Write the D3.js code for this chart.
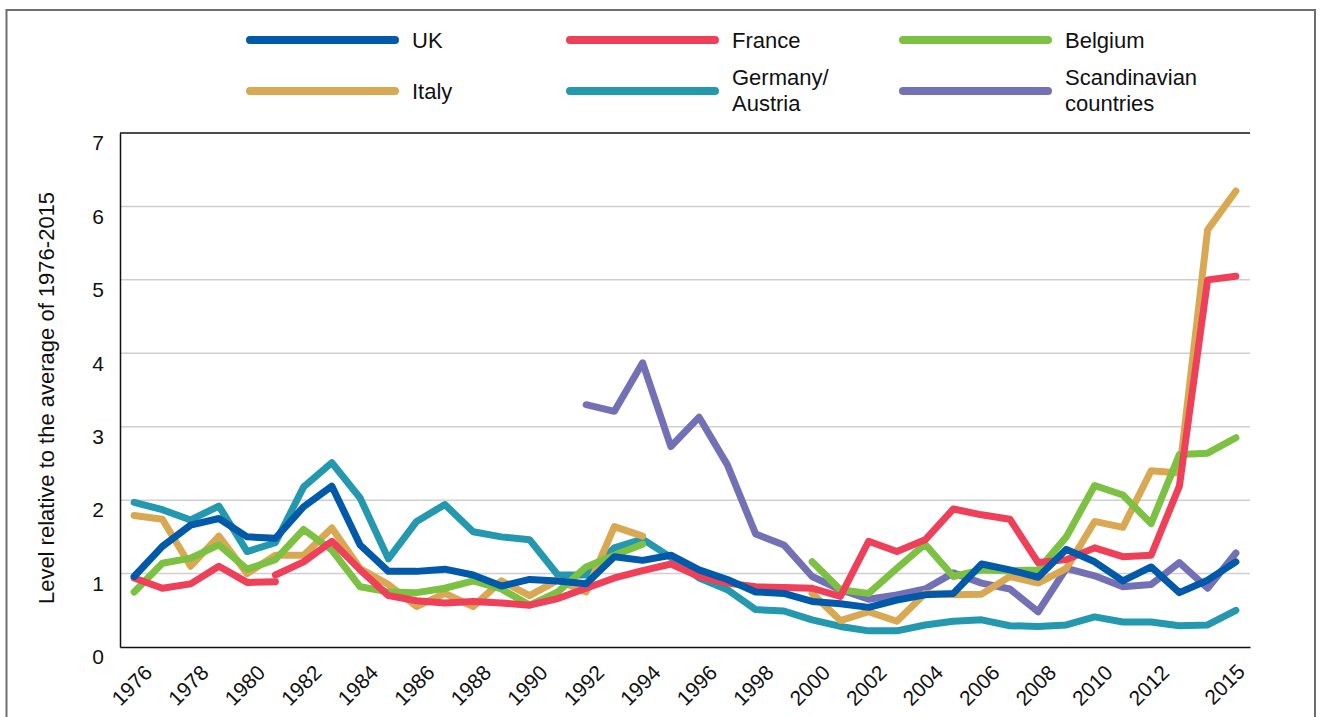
<!DOCTYPE html>
<html>
<head>
<meta charset="utf-8">
<script src="https://cdn.jsdelivr.net/npm/d3@7"></script>
<style>
    body { margin: 0; background: #fff; }
    svg { display: block; font-family: 'Liberation Sans', Arial, sans-serif; }
</style>
</head>
<body>
<svg id="chart" width="1320" height="717"></svg>
<script>
'use strict'

// categories
let years = d3.range(1976, 2016)
let labelYears = [1976, 1978, 1980, 1982, 1984, 1986, 1988, 1990, 1992, 1994, 1996, 1998, 2000, 2002, 2004, 2006, 2008, 2010, 2012, 2015]
let yTicks = [0, 1, 2, 3, 4, 5, 6, 7]

// series values, 1976-2015 (null = no data)
let uk = [0.96, 1.37, 1.66, 1.75, 1.50, 1.48, 1.91, 2.19, 1.39, 1.03,
    1.03, 1.06, 0.98, 0.83, 0.92, 0.90, 0.86, 1.23, 1.18, 1.25,
    1.05, 0.92, 0.75, 0.73, 0.62, 0.59, 0.54, 0.64, 0.71, 0.73,
    1.13, 1.05, 0.95, 1.33, 1.16, 0.90, 1.09, 0.74, 0.91, 1.16]
// France has a break in 1981: old series up to 1981, new one from 1981
let franceOld = [0.94, 0.80, 0.86, 1.10, 0.88, 0.89, null, null, null, null,
    null, null, null, null, null, null, null, null, null, null,
    null, null, null, null, null, null, null, null, null, null,
    null, null, null, null, null, null, null, null, null, null]
let france = [null, null, null, null, null, 0.98, 1.16, 1.44, 1.05, 0.70,
    0.63, 0.60, 0.62, 0.60, 0.57, 0.66, 0.80, 0.94, 1.04, 1.13,
    0.96, 0.87, 0.82, 0.81, 0.80, 0.69, 1.44, 1.30, 1.46, 1.88,
    1.80, 1.74, 1.15, 1.19, 1.35, 1.23, 1.25, 2.19, 5.00, 5.05]
let belgium = [0.75, 1.14, 1.21, 1.39, 1.06, 1.19, 1.60, 1.32, 0.82, 0.75,
    0.74, 0.80, 0.90, 0.79, 0.57, 0.75, 1.09, 1.25, 1.40, null,
    null, null, null, null, 1.16, 0.78, 0.73, 1.07, 1.40, 0.96,
    1.05, 1.04, 1.05, 1.50, 2.20, 2.07, 1.68, 2.62, 2.64, 2.85]
let italy = [1.79, 1.74, 1.10, 1.51, 1.00, 1.25, 1.25, 1.62, 1.07, 0.85,
    0.55, 0.73, 0.55, 0.90, 0.70, 0.91, 0.75, 1.64, 1.51, null,
    null, null, null, null, 0.73, 0.36, 0.48, 0.35, 0.73, 0.71,
    0.72, 0.96, 0.87, 1.07, 1.71, 1.63, 2.40, 2.37, 5.68, 6.21]
let germany = [1.97, 1.87, 1.73, 1.92, 1.30, 1.42, 2.18, 2.51, 2.03, 1.20,
    1.71, 1.94, 1.57, 1.50, 1.46, 0.98, 0.98, 1.35, 1.47, 1.22,
    0.94, 0.78, 0.51, 0.49, 0.37, 0.28, 0.22, 0.22, 0.30, 0.35,
    0.37, 0.29, 0.28, 0.30, 0.41, 0.34, 0.34, 0.29, 0.30, 0.50]
let scandinavia = [null, null, null, null, null, null, null, null, null, null,
    null, null, null, null, null, null, 3.30, 3.21, 3.87, 2.73,
    3.13, 2.48, 1.54, 1.39, 0.96, 0.78, 0.65, 0.71, 0.79, 1.01,
    0.87, 0.79, 0.48, 1.07, 0.97, 0.82, 0.85, 1.15, 0.80, 1.28]

let colors = { uk: '#0059a9', france: '#ef405a', belgium: '#7cc142', italy: '#d9a853', germany: '#2498ae', scandinavia: '#7470b5' }

// bottom to top
let series = [
    { values: scandinavia, color: colors.scandinavia },
    { values: germany, color: colors.germany },
    { values: italy, color: colors.italy },
    { values: belgium, color: colors.belgium },
    { values: franceOld, color: colors.france },
    { values: france, color: colors.france },
    { values: uk, color: colors.uk }
]

let legendItems = [
    { lines: ['UK'], color: colors.uk, col: 0, row: 0 },
    { lines: ['France'], color: colors.france, col: 1, row: 0 },
    { lines: ['Belgium'], color: colors.belgium, col: 2, row: 0 },
    { lines: ['Italy'], color: colors.italy, col: 0, row: 1 },
    { lines: ['Germany/', 'Austria'], color: colors.germany, col: 1, row: 1 },
    { lines: ['Scandinavian', 'countries'], color: colors.scandinavia, col: 2, row: 1 }
]

let svg = d3.select('#chart')

// outer frame
svg.append('path')
    .attr('d', 'M6.5,717 V10 H1315 V717')
    .attr('fill', 'none')
    .attr('stroke', '#6e6e6e')
    .attr('stroke-width', 2)

let margin = { top: 133, right: 70, bottom: 70, left: 120 }
let width = 1320 - margin.left - margin.right
let height = 717 - margin.top - margin.bottom

let g = svg.append('g').attr('transform', `translate(${margin.left}, ${margin.top})`)

let x = d3.scalePoint().domain(years).range([0, width]).padding(0.5)
let y = d3.scaleLinear().domain([0, 7]).range([height, 0])

// grid
g.append('g')
    .selectAll('line')
    .data(yTicks.filter(d => d > 0 && d < 7))
    .enter()
    .append('line')
    .attr('x1', 0)
    .attr('x2', width)
    .attr('y1', d => y(d))
    .attr('y2', d => y(d))
    .attr('stroke', '#cfcfcf')
    .attr('stroke-width', 1.5)

g.append('line')
    .attr('x1', 0).attr('x2', width)
    .attr('y1', y(7)).attr('y2', y(7))
    .attr('stroke', '#111').attr('stroke-width', 1.5)

// axes
let yAxis = g.append('g')
    .call(d3.axisLeft(y).tickValues(yTicks).tickFormat(d3.format('d')).tickSize(0).tickPadding(16))
yAxis.select('.domain').attr('stroke', '#111').attr('stroke-width', 1.5)
yAxis.selectAll('text')
    .attr('font-family', "'Liberation Sans', Arial, sans-serif")
    .attr('font-size', '21px')
    .attr('fill', '#111')
    .attr('dy', '0.8em')

let xAxis = g.append('g')
    .attr('transform', `translate(0, ${height})`)
    .call(d3.axisBottom(x).tickValues(labelYears).tickSize(0))
xAxis.select('.domain').attr('stroke', '#111').attr('stroke-width', 1.5)
xAxis.selectAll('text')
    .attr('font-family', "'Liberation Sans', Arial, sans-serif")
    .attr('font-size', '21px')
    .attr('fill', '#111')
    .attr('x', 0).attr('y', 0).attr('dy', 0)
    .attr('text-anchor', 'end')
    .attr('transform', d => d === 2015 ? 'translate(10, 26) rotate(-45)' : 'translate(19, 27) rotate(-45)')

svg.append('text')
    .attr('transform', 'translate(54, 398) rotate(-90)')
    .attr('text-anchor', 'middle')
    .attr('font-size', '22px')
    .attr('fill', '#111')
    .text('Level relative to the average of 1976-2015')

// lines
let line = d3.line()
    .defined(d => d !== null)
    .x((d, i) => x(years[i]))
    .y(d => y(d))

g.append('g')
    .selectAll('path')
    .data(series)
    .enter()
    .append('path')
    .attr('d', d => line(d.values))
    .attr('fill', 'none')
    .attr('stroke', d => d.color)
    .attr('stroke-width', 7)
    .attr('stroke-linecap', 'round')
    .attr('stroke-linejoin', 'round')

// legend
let colX = [250, 570, 903]
let rowY = [40, 91]

let legend = svg.append('g')
    .selectAll('g')
    .data(legendItems)
    .enter()
    .append('g')
    .attr('transform', d => `translate(${colX[d.col]}, ${rowY[d.row]})`)

legend.append('line')
    .attr('x1', 0).attr('x2', 145)
    .attr('stroke', d => d.color)
    .attr('stroke-width', 8)
    .attr('stroke-linecap', 'round')

legend.append('text')
    .attr('x', 162)
    .attr('font-size', '22px')
    .attr('fill', '#111')
    .selectAll('tspan')
    .data(d => d.lines.map((t, i) => ({ t: t, i: i, n: d.lines.length })))
    .enter()
    .append('tspan')
    .attr('x', 162)
    .attr('y', d => d.n === 1 ? 0 : (d.i === 0 ? -14 : 12))
    .attr('dy', '0.35em')
    .text(d => d.t)
</script>
</body>
</html>
